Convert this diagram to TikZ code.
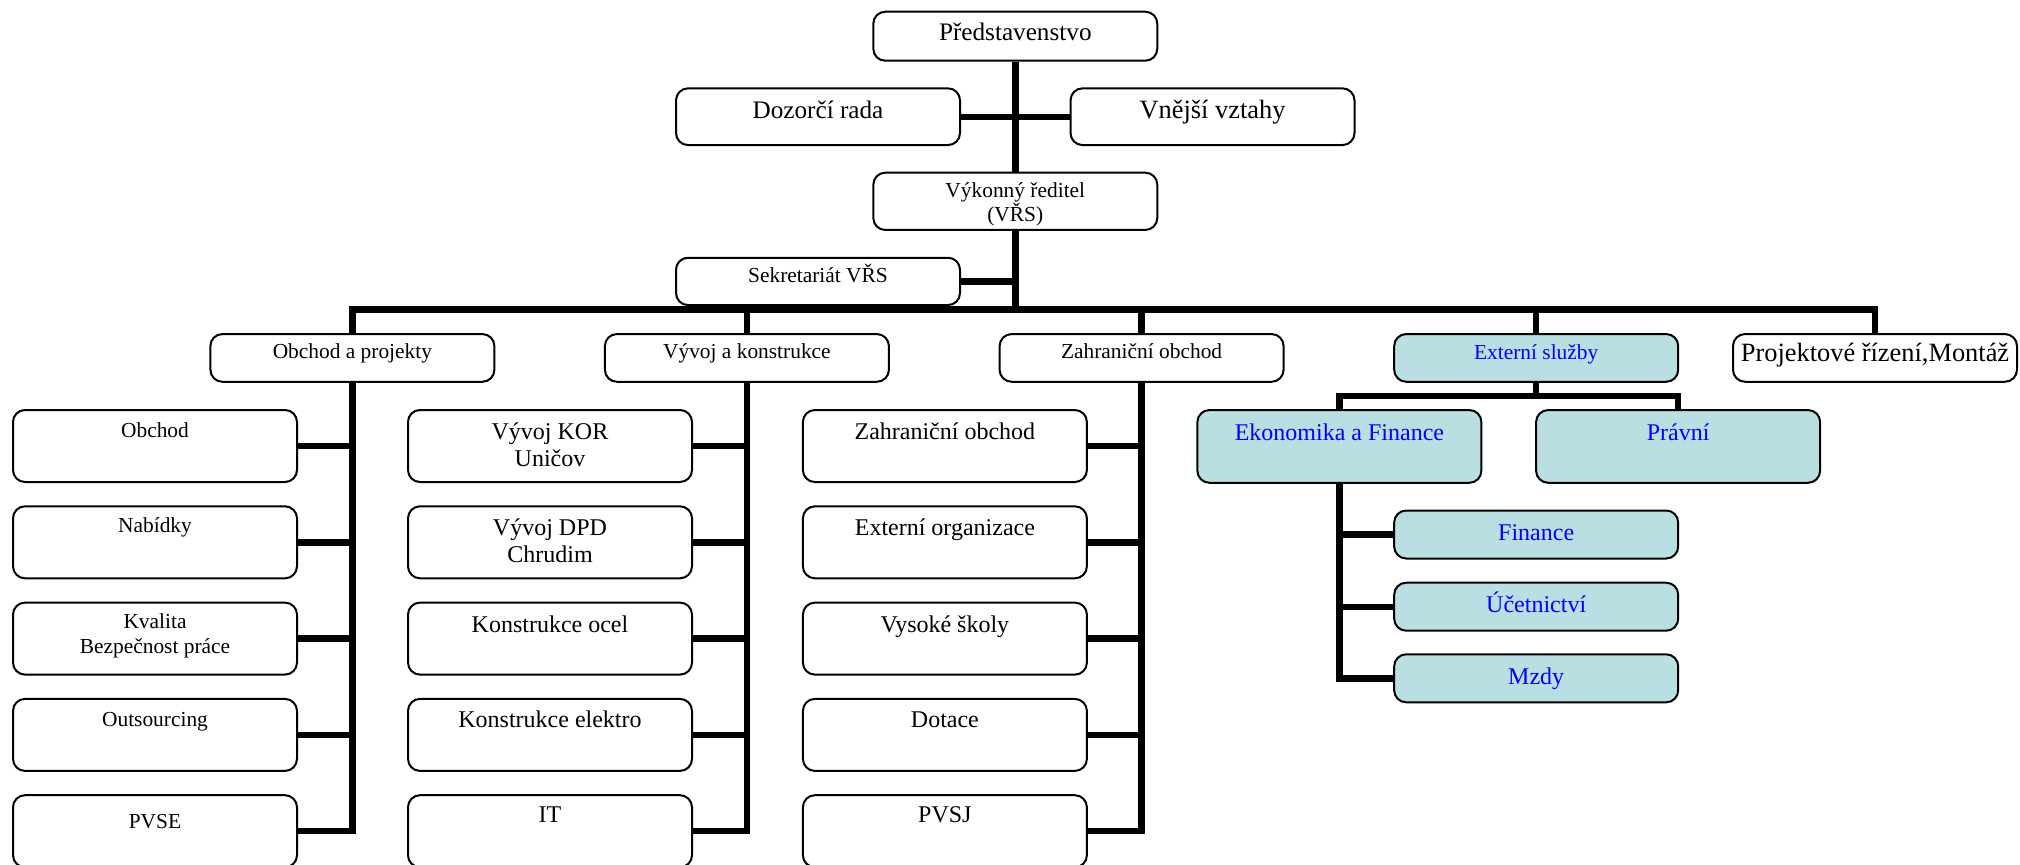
\documentclass[tikz,border=0pt]{standalone}
\usepackage{fontspec}
\setmainfont{Liberation Serif}
\usetikzlibrary{calc}
\definecolor{svcfill}{RGB}{185,223,226}
\definecolor{svcink}{RGB}{0,0,255}

\begin{document}
\begin{tikzpicture}[x=0.5pt,y=-0.5pt,
  box/.style={draw=black, line width=1pt, rounded corners=6pt, fill=white,
              minimum width=142pt, inner sep=0pt},
  svc/.style={box, fill=svcfill},
  colbox/.style={box, minimum height=36pt},
  headbox/.style={box, minimum height=23.85pt},
  link/.style={line width=3.2pt, line join=miter, line cap=butt},
  lbl/.style={anchor=base, inner sep=0pt},
  bigtxt/.style={font=\fontsize{12.6}{15}\selectfont},
  hugetxt/.style={font=\fontsize{13.2}{16}\selectfont},
  smalltxt/.style={font=\fontsize{10.7}{13}\selectfont},
  midtxt/.style={font=\fontsize{12}{14}\selectfont},
  bluetxt/.style={text=svcink}
]
\useasboundingbox (0,0) rectangle (2020,864);
\clip (0,0) rectangle (2020,864);

% ---- top management
\node[box, minimum height=24.5pt]  (board) at (1015.3,36.2)  {};
\node[box, minimum height=28.35pt] (doz)   at (818,116.7)    {};
\node[box, minimum height=28.35pt] (vne)   at (1212.5,116.7) {};
\node[box, minimum height=28.65pt] (vyk)   at (1015.3,201.3) {};
\node[box, minimum height=23.65pt] (sek)   at (818,281.4)    {};

\node[lbl,bigtxt]  (board-t) at (1015.3,40)  {Představenstvo};
\node[lbl,bigtxt]  (doz-t)   at (818,118.3)  {Dozorčí rada};
\node[lbl,hugetxt] (vne-t)   at (1212.5,118.5) {Vnější vztahy};
\node[lbl,smalltxt] (vyk-t1) at (1015.3,197.3) {Výkonný ředitel};
\node[lbl,smalltxt] (vyk-t2) at (1015.3,221.7) {(VŘS)};
\node[lbl,smalltxt] (sek-t)  at (818,282.7)  {Sekretariát VŘS};

% ---- divisions
\node[headbox] (h1) at (352.4,357.9)  {};
\node[headbox] (h2) at (746.9,357.9)  {};
\node[headbox] (h3) at (1141.6,357.9) {};
\node[headbox,svc] (h4) at (1536.2,357.9) {};
\node[headbox] (h5) at (1875,357.9)   {};

\node[lbl,smalltxt] (h1-t) at (352.4,358.9)  {Obchod a projekty};
\node[lbl,smalltxt] (h2-t) at (746.9,358.9)  {Vývoj a konstrukce};
\node[lbl,smalltxt] (h3-t) at (1141.6,358.9) {Zahraniční obchod};
\node[lbl,smalltxt,bluetxt] (h4-t) at (1536.2,359.3) {Externí služby};
\node[lbl,hugetxt] (h5-t) at (1875,361.7)   {Projektové řízení,Montáž};

% ---- column 1: Obchod a projekty
\node[colbox] (c11) at (155,446)   {};
\node[colbox] (c12) at (155,542.3) {};
\node[colbox] (c13) at (155,638.6) {};
\node[colbox] (c14) at (155,734.9) {};
\node[colbox] (c15) at (155,831.2) {};
\node[lbl,smalltxt] (c11-t)  at (155,437.3) {Obchod};
\node[lbl,smalltxt] (c12-t)  at (155,532.4) {Nabídky};
\node[lbl,smalltxt] (c13-t1) at (155,628.8) {Kvalita};
\node[lbl,smalltxt] (c13-t2) at (155,653.8) {Bezpečnost práce};
\node[lbl,smalltxt] (c14-t)  at (155,726)   {Outsourcing};
\node[lbl,smalltxt] (c15-t)  at (155,828)   {PVSE};

% ---- column 2: Vývoj a konstrukce
\node[colbox] (c21) at (550,446)   {};
\node[colbox] (c22) at (550,542.3) {};
\node[colbox] (c23) at (550,638.6) {};
\node[colbox] (c24) at (550,734.9) {};
\node[colbox] (c25) at (550,831.2) {};
\node[lbl,midtxt] (c21-t1) at (550,439)   {Vývoj KOR};
\node[lbl,midtxt] (c21-t2) at (550,466.8) {Uničov};
\node[lbl,midtxt] (c22-t1) at (550,535.1) {Vývoj DPD};
\node[lbl,midtxt] (c22-t2) at (550,562.9) {Chrudim};
\node[lbl,midtxt] (c23-t)  at (550,632.3) {Konstrukce ocel};
\node[lbl,midtxt] (c24-t)  at (550,727.7) {Konstrukce elektro};
\node[lbl,midtxt] (c25-t)  at (550,822)   {IT};

% ---- column 3: Zahraniční obchod
\node[colbox] (c31) at (944.9,446)   {};
\node[colbox] (c32) at (944.9,542.3) {};
\node[colbox] (c33) at (944.9,638.6) {};
\node[colbox] (c34) at (944.9,734.9) {};
\node[colbox] (c35) at (944.9,831.2) {};
\node[lbl,midtxt] (c31-t) at (944.9,439.7) {Zahraniční obchod};
\node[lbl,midtxt] (c32-t) at (944.9,535.8) {Externí organizace};
\node[lbl,midtxt] (c33-t) at (944.9,632.3) {Vysoké školy};
\node[lbl,midtxt] (c34-t) at (944.9,727.7) {Dotace};
\node[lbl,midtxt] (c35-t) at (944.9,822)   {PVSJ};

% ---- external services
\node[svc, minimum height=36.35pt] (ekon) at (1339.4,446.4) {};
\node[svc, minimum height=36.35pt] (prav) at (1678.1,446.4) {};
\node[svc, minimum height=24pt] (fin)  at (1536.2,534.5) {};
\node[svc, minimum height=24pt] (uce)  at (1536.2,606.7) {};
\node[svc, minimum height=24pt] (mzdy) at (1536.2,678.3) {};
\node[lbl,midtxt,bluetxt] (ekon-t) at (1339.4,440) {Ekonomika a Finance};
\node[lbl,midtxt,bluetxt] (prav-t) at (1678.1,440) {Právní};
\node[lbl,midtxt,bluetxt] (fin-t)  at (1536.2,540) {Finance};
\node[lbl,midtxt,bluetxt] (uce-t)  at (1536.2,612.3) {Účetnictví};
\node[lbl,midtxt,bluetxt] (mzdy-t) at (1536.2,684) {Mzdy};

% ---- connectors
\coordinate (bus) at (1015.3,309.3);
\coordinate (sub) at (1536.2,396);

\draw[link] (board.south) -- (vyk.north);
\draw[link] (doz.east) -- (vne.west);
\draw[link] (vyk.south) -- (bus);
\draw[link] (sek.east) -- (sek.east -| vyk.south);

\draw[link] (h1.north) -- (h1.north |- bus) -- (h5.north |- bus) -- (h5.north);
\foreach \h in {h2,h3,h4} \draw[link] (\h.north) -- (\h.north |- bus);

\draw[link] (h1.south) |- (c15.east);
\foreach \c in {c11,c12,c13,c14} \draw[link] (\c.east) -- (\c.east -| h1.south);
\draw[link] (h2.south) |- (c25.east);
\foreach \c in {c21,c22,c23,c24} \draw[link] (\c.east) -- (\c.east -| h2.south);
\draw[link] (h3.south) |- (c35.east);
\foreach \c in {c31,c32,c33,c34} \draw[link] (\c.east) -- (\c.east -| h3.south);

\draw[link] (ekon.north) -- (ekon.north |- sub) -- (prav.north |- sub) -- (prav.north);
\draw[link] (h4.south) -- (sub);
\draw[link] (ekon.south) |- (mzdy.west);
\foreach \c in {fin,uce} \draw[link] (\c.west) -- (\c.west -| ekon.south);
\end{tikzpicture}
\end{document}
